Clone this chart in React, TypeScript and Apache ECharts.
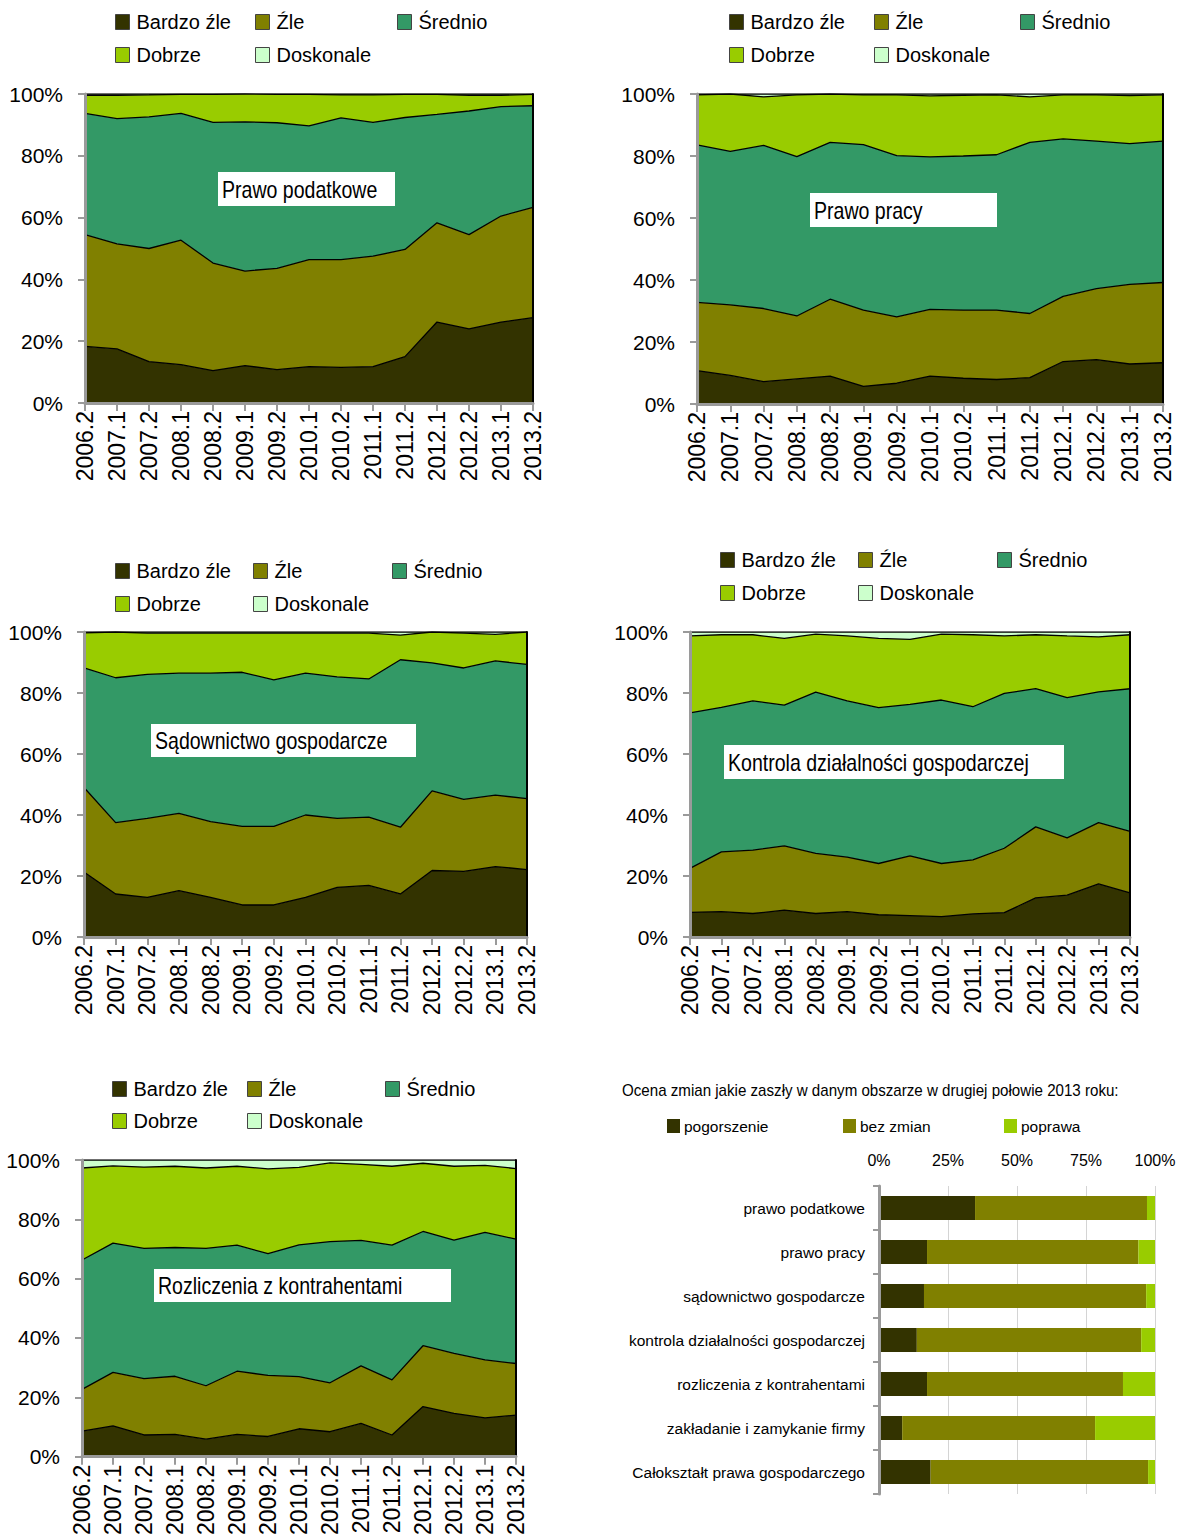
import React, { useEffect, useRef } from "react";
import * as echarts from "echarts";

// ---------- DATA ----------
const periods = ["2006.2","2007.1","2007.2","2008.1","2008.2","2009.1","2009.2","2010.1","2010.2","2011.1","2011.2","2012.1","2012.2","2013.1","2013.2"];
const ratingNames = ["Bardzo źle", "Źle", "Średnio", "Dobrze", "Doskonale"];

// Prawo podatkowe
const podatkoweBardzoZle = [18.3, 17.5, 13.4, 12.4, 10.5, 12.1, 10.8, 11.8, 11.5, 11.8, 15.0, 26.2, 24.0, 26.2, 27.6];
const podatkoweZle = [36.2, 34.0, 36.6, 40.3, 34.8, 30.6, 32.8, 34.6, 34.9, 35.7, 34.7, 32.1, 30.5, 34.3, 35.7];
const podatkoweSrednio = [39.2, 40.5, 42.6, 41.0, 45.5, 48.3, 47.1, 43.3, 45.9, 43.3, 42.7, 35.1, 40.0, 35.4, 32.9];
const podatkoweDobrze = [5.9, 7.6, 7.1, 6.2, 9.1, 9.0, 9.2, 10.2, 7.4, 8.9, 7.5, 6.5, 5.1, 3.7, 3.7];
const podatkoweDoskonale = [0.4, 0.4, 0.3, 0.1, 0.1, 0.0, 0.1, 0.1, 0.3, 0.3, 0.1, 0.1, 0.4, 0.4, 0.1];

// Prawo pracy
const pracyBardzoZle = [10.8, 9.2, 7.2, 8.1, 9.0, 5.7, 6.7, 9.0, 8.3, 7.9, 8.5, 13.7, 14.3, 12.9, 13.3];
const pracyZle = [22.0, 22.8, 23.6, 20.3, 24.8, 24.6, 21.4, 21.5, 22.0, 22.4, 20.7, 21.0, 22.9, 25.7, 25.9];
const pracySrednio = [50.8, 49.5, 52.6, 51.4, 50.6, 53.4, 52.0, 49.2, 49.7, 50.1, 55.2, 50.8, 47.6, 45.4, 45.6];
const pracyDobrze = [16.1, 18.5, 15.7, 19.9, 15.6, 16.0, 19.6, 19.7, 19.6, 19.3, 14.7, 14.2, 14.9, 15.5, 14.9];
const pracyDoskonale = [0.3, 0.0, 0.9, 0.3, 0.0, 0.3, 0.3, 0.6, 0.4, 0.3, 0.9, 0.3, 0.3, 0.5, 0.3];

// Sądownictwo gospodarcze
const sadyBardzoZle = [21.3, 14.1, 13.0, 15.2, 13.0, 10.5, 10.5, 13.0, 16.3, 16.9, 14.1, 21.8, 21.5, 23.1, 22.1];
const sadyZle = [27.7, 23.4, 25.9, 25.3, 24.8, 25.8, 25.8, 27.0, 22.6, 22.4, 21.9, 26.1, 23.6, 23.4, 23.3];
const sadySrednio = [39.2, 47.5, 47.2, 46.0, 48.7, 50.5, 48.0, 46.5, 46.4, 45.3, 54.9, 42.0, 43.1, 44.0, 44.0];
const sadyDobrze = [11.5, 15.0, 13.5, 13.1, 13.1, 12.8, 15.3, 13.1, 14.3, 15.0, 8.1, 10.1, 11.4, 8.7, 10.6];
const sadyDoskonale = [0.3, 0.0, 0.4, 0.4, 0.4, 0.4, 0.4, 0.4, 0.4, 0.4, 1.0, 0.0, 0.4, 0.8, 0.0];

// Kontrola działalności gospodarczej
const kontrolaBardzoZle = [8.1, 8.3, 7.7, 8.8, 7.7, 8.3, 7.3, 7.0, 6.7, 7.6, 8.0, 12.8, 13.7, 17.4, 14.5];
const kontrolaZle = [14.4, 19.6, 20.8, 21.1, 19.7, 17.9, 16.8, 19.6, 17.4, 17.7, 21.1, 23.3, 18.8, 20.1, 20.1];
const kontrolaSrednio = [51.0, 47.4, 48.9, 46.1, 52.9, 51.2, 51.1, 49.7, 53.6, 50.2, 50.8, 45.3, 46.0, 42.9, 46.8];
const kontrolaDobrze = [25.2, 23.8, 21.7, 21.9, 19.0, 21.3, 22.7, 21.3, 21.6, 23.6, 18.8, 17.7, 20.2, 18.0, 17.7];
const kontrolaDoskonale = [1.3, 0.9, 0.9, 2.1, 0.7, 1.3, 2.1, 2.4, 0.7, 0.9, 1.3, 0.9, 1.3, 1.6, 0.9];

// Rozliczenia z kontrahentami
const rozliczeniaBardzoZle = [8.6, 10.4, 7.3, 7.5, 5.9, 7.5, 6.8, 9.4, 8.4, 11.2, 7.3, 16.9, 14.6, 13.1, 14.0];
const rozliczeniaZle = [14.1, 18.0, 19.0, 19.6, 18.0, 21.3, 20.6, 17.6, 16.5, 19.4, 18.6, 20.5, 20.2, 19.5, 17.4];
const rozliczeniaSrednio = [43.6, 43.6, 43.9, 43.4, 46.3, 42.5, 41.0, 44.4, 47.6, 42.3, 45.4, 38.5, 38.2, 43.0, 41.9];
const rozliczeniaDobrze = [31.0, 26.0, 27.4, 27.4, 27.1, 26.6, 28.6, 26.1, 26.5, 25.6, 26.6, 23.0, 24.9, 22.6, 23.8];
const rozliczeniaDoskonale = [2.7, 2.0, 2.4, 2.1, 2.7, 2.1, 3.0, 2.5, 1.0, 1.5, 2.1, 1.1, 2.1, 1.8, 2.9];

// Ocena zmian (druga połowa 2013)
const changeTitle = "Ocena zmian jakie zaszły w danym obszarze w drugiej połowie 2013 roku:";
const changeAreas = ["prawo podatkowe", "prawo pracy", "sądownictwo gospodarcze", "kontrola działalności gospodarczej", "rozliczenia z kontrahentami", "zakładanie i zamykanie firmy", "Całokształt prawa gospodarczego"];
const changeNames = ["pogorszenie", "bez zmian", "poprawa"];
const pogorszenie = [34.8, 17.4, 16.3, 13.7, 17.4, 8.4, 18.7];
const bezZmian = [62.3, 76.6, 80.5, 81.3, 71.0, 69.9, 78.8];
const poprawa = [2.9, 6.0, 3.2, 5.0, 11.6, 21.7, 2.5];
const changeTicks = [0, 25, 50, 75, 100];

// ---------- STYLE / LAYOUT ----------
const FONT = "'Liberation Sans', Arial, sans-serif";
const ratingColors = ["#333300", "#808000", "#339966", "#99CC00", "#CCFFCC"];
const changeColors = ["#333300", "#808000", "#99CC00"];
const AXIS_GRAY = "#9a9a9a";
const NARROW = 0.85;

const areaCharts = [
  { title: "Prawo podatkowe", values: [podatkoweBardzoZle, podatkoweZle, podatkoweSrednio, podatkoweDobrze, podatkoweDoskonale],
    grid: { left: 85, top: 94, width: 448, height: 309 }, legX: [115, 255, 397], legY: [22, 55], box: { x: 218, y: 172, w: 177, h: 34 } },
  { title: "Prawo pracy", values: [pracyBardzoZle, pracyZle, pracySrednio, pracyDobrze, pracyDoskonale],
    grid: { left: 697, top: 94, width: 466, height: 310 }, legX: [729, 874, 1020], legY: [22, 55], box: { x: 810, y: 193, w: 187, h: 34 } },
  { title: "Sądownictwo gospodarcze", values: [sadyBardzoZle, sadyZle, sadySrednio, sadyDobrze, sadyDoskonale],
    grid: { left: 84, top: 632, width: 443, height: 305 }, legX: [115, 253, 392], legY: [571, 604], box: { x: 151, y: 724, w: 265, h: 33 } },
  { title: "Kontrola działalności gospodarczej", values: [kontrolaBardzoZle, kontrolaZle, kontrolaSrednio, kontrolaDobrze, kontrolaDoskonale],
    grid: { left: 690, top: 632, width: 440, height: 305 }, legX: [720, 858, 997], legY: [560, 593], box: { x: 724, y: 745, w: 340, h: 34 } },
  { title: "Rozliczenia z kontrahentami", values: [rozliczeniaBardzoZle, rozliczeniaZle, rozliczeniaSrednio, rozliczeniaDobrze, rozliczeniaDoskonale],
    grid: { left: 82, top: 1160, width: 434, height: 299 }, legX: [112, 247, 385], legY: [1089, 1121], box: { x: 154, y: 1269, w: 297, h: 33 } },
];

function buildOption() {
  const grid: any[] = [];
  const xAxis: any[] = [];
  const yAxis: any[] = [];
  const series: any[] = [];
  const legend: any[] = [];
  const graphic: any[] = [];

  areaCharts.forEach((c, i) => {
    grid.push({ ...c.grid, containLabel: false });
    xAxis.push({
      type: "category", gridIndex: i, data: periods, boundaryGap: false, z: 10,
      axisLine: { show: true, lineStyle: { color: AXIS_GRAY, width: 3 } },
      axisTick: { show: true, length: 8, lineStyle: { color: AXIS_GRAY, width: 2 } },
      axisLabel: { rotate: 90, interval: 0, fontSize: 23, fontFamily: FONT, color: "#000", margin: 8 },
      splitLine: { show: false },
    });
    yAxis.push({
      type: "value", gridIndex: i, min: 0, max: 100, interval: 20, z: 10,
      axisLine: { show: true, lineStyle: { color: AXIS_GRAY, width: 3 } },
      axisTick: { show: true, length: 7, lineStyle: { color: AXIS_GRAY, width: 2 } },
      axisLabel: { formatter: "{value}%", fontSize: 21, fontFamily: FONT, color: "#000", margin: 22 },
      splitLine: { show: false },
    });
    yAxis.push({
      type: "value", gridIndex: i, min: 0, max: 100, position: "right", z: 10,
      axisLine: { show: true, lineStyle: { color: "#000", width: 2 } },
      axisTick: { show: false }, axisLabel: { show: false }, splitLine: { show: false },
    });
    ratingNames.forEach((name, k) => {
      series.push({
        type: "line", name, xAxisIndex: i, yAxisIndex: 2 * i, stack: "s" + i,
        data: c.values[k], symbol: "none", z: 7 - k,
        lineStyle: { color: "#000", width: 1.3 },
        itemStyle: { color: ratingColors[k] },
        areaStyle: { color: ratingColors[k], opacity: 1 },
      });
      const row = k < 3 ? 0 : 1;
      const col = k % 3;
      legend.push({
        data: [name], left: c.legX[col], top: c.legY[row] - 12, padding: 0,
        icon: "rect", itemWidth: 14, itemHeight: 15, itemGap: 0, selectedMode: false,
        itemStyle: { borderColor: "#444", borderWidth: 1 },
        textStyle: { fontSize: 20, fontFamily: FONT, color: "#000", lineHeight: 24, padding: [0, 0, 0, 2] },
      });
    });
    graphic.push({
      type: "rect", left: c.box.x, top: c.box.y, z: 50,
      shape: { width: c.box.w, height: c.box.h }, style: { fill: "#fff" },
    });
    graphic.push({
      type: "text", x: c.box.x + 4, y: c.box.y + c.box.h / 2 + 1, scaleX: NARROW, z: 51,
      style: { text: c.title, fontSize: 23, fontFamily: FONT, fill: "#000", verticalAlign: "middle", align: "left" },
    });
  });

  // Bar chart
  const gi = areaCharts.length;
  grid.push({ left: 879, top: 1186, width: 276, height: 308, containLabel: false });
  xAxis.push({
    type: "value", gridIndex: gi, position: "top", min: changeTicks[0], max: changeTicks[changeTicks.length - 1],
    interval: changeTicks[1] - changeTicks[0],
    axisLine: { show: false }, axisTick: { show: false },
    axisLabel: { formatter: "{value}%", fontSize: 16, fontFamily: FONT, color: "#000", margin: 18 },
    splitLine: { show: true, lineStyle: { color: "#d4d4d4", width: 1 } },
  });
  yAxis.push({
    type: "category", gridIndex: gi, inverse: true, data: changeAreas, z: 10,
    axisLine: { show: true, lineStyle: { color: AXIS_GRAY, width: 3 } },
    axisTick: { show: true, length: 6, lineStyle: { color: AXIS_GRAY, width: 2 } },
    axisLabel: { fontSize: 15.5, fontFamily: FONT, color: "#000", margin: 14 },
  });
  const changeValues = [pogorszenie, bezZmian, poprawa];
  changeNames.forEach((name, k) => {
    series.push({
      type: "bar", name, xAxisIndex: gi, yAxisIndex: yAxis.length - 1, stack: "change",
      data: changeValues[k], barWidth: 24, itemStyle: { color: changeColors[k] },
    });
  });
  const changeLegX = [667, 843, 1004];
  changeNames.forEach((name, k) => {
    legend.push({
      data: [name], left: changeLegX[k], top: 1126 - 10, padding: 0,
      icon: "rect", itemWidth: 13, itemHeight: 14, itemGap: 0, selectedMode: false,
      textStyle: { fontSize: 15.5, fontFamily: FONT, color: "#000", lineHeight: 20, padding: [0, 0, 0, -1] },
    });
  });
  graphic.push({
    type: "text", x: 622, y: 1090, scaleX: 0.89, z: 51,
    style: { text: changeTitle, fontSize: 17, fontFamily: FONT, fill: "#000", verticalAlign: "middle", align: "left" },
  });

  return { animation: false, backgroundColor: "#fff", grid, xAxis, yAxis, series, legend, graphic };
}

export default function App() {
  const ref = useRef<HTMLDivElement>(null);
  useEffect(() => {
    document.body.style.margin = "0";
    document.body.style.overflow = "hidden";
    const chart = echarts.init(ref.current!, null, { renderer: "svg" });
    chart.setOption(buildOption());
    return () => chart.dispose();
  }, []);
  return <div ref={ref} style={{ width: 1179, height: 1538 }} />;
}
